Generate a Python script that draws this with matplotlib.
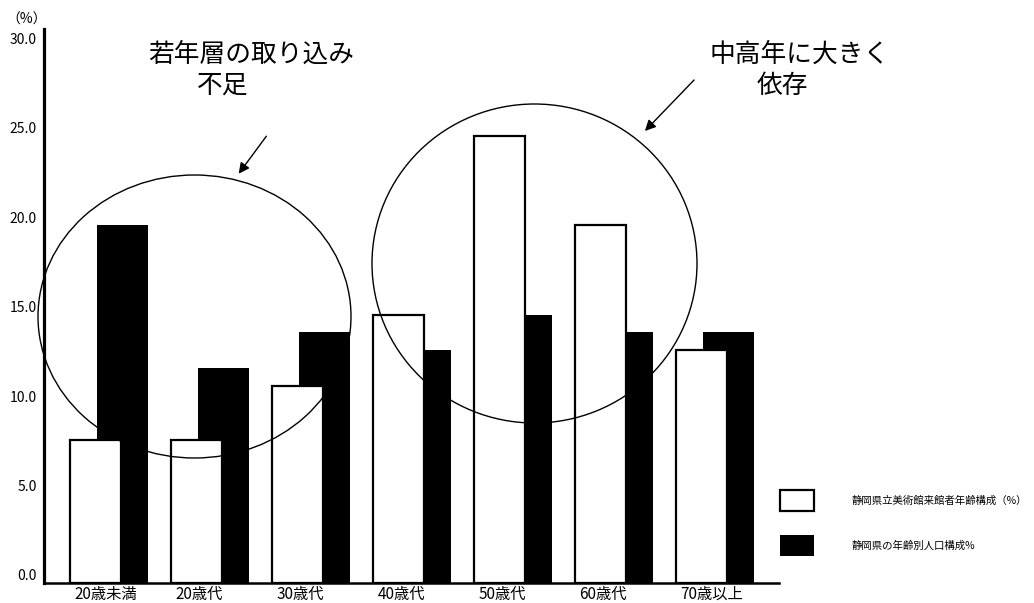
import matplotlib
matplotlib.use("Agg")
import matplotlib.pyplot as plt
import matplotlib.transforms as mtransforms
from matplotlib.patches import Ellipse, FancyArrowPatch
import numpy as np

plt.rcParams['font.family'] = ['Noto Sans CJK JP', 'DejaVu Sans']

categories = ['20歳未満', '20歳代', '30歳代', '40歳代', '50歳代', '60歳代', '70歳以上']
museum = [8, 8, 11, 15, 25, 20, 13]       # 静岡県立美術館来館者年齢構成（%）
population = [20, 12, 14, 13, 15, 14, 14]  # 静岡県の年齢別人口構成%
yticks = [0, 5, 10, 15, 20, 25, 30]
label_museum = '静岡県立美術館来館者年齢構成（%）'
label_pop = '静岡県の年齢別人口構成%'

W, H = 1034, 603
fig = plt.figure(figsize=(W / 100, H / 100), dpi=100)


def fx(px):
    return px / W


def fy(py):
    return 1 - py / H


ax = fig.add_axes([fx(44), fy(583), fx(779) - fx(44), fy(29) - fy(583)])

x = np.arange(len(categories))
bw = 0.505
b_pop = ax.bar(x + 0.267, population, bw, color='black', edgecolor='black',
               linewidth=0, label=label_pop, zorder=2)
b_mus = ax.bar(x, museum, bw, color='white', edgecolor='black',
               linewidth=1.6, label=label_museum, zorder=3)

ax.set_xlim(-0.51, 6.767)
ax.set_ylim(0, 30.95)

for s in ['top', 'right']:
    ax.spines[s].set_visible(False)
ax.spines['left'].set_linewidth(2.3)
ax.spines['bottom'].set_linewidth(1.8)

ax.set_yticks(yticks)
ax.set_yticklabels([f'{v:.1f}' for v in yticks], fontsize=10)
ax.tick_params(axis='y', length=0, pad=5)
up = mtransforms.ScaledTranslation(0, 8 / 100, fig.dpi_scale_trans)
for lab in ax.get_yticklabels():
    lab.set_transform(lab.get_transform() + up)

ax.set_xticks(x - 0.21)
ax.set_xticklabels(categories, fontsize=11, ha='left')
ax.tick_params(axis='x', length=0, pad=2)

fig.text(fx(6), fy(20), '（%）', fontsize=10, ha='left', va='center')

# circled groups
ftr = fig.transFigure
ax.add_patch(Ellipse((fx(194.5), fy(316.5)), fx(313), 283 / H,
                     transform=ftr, fill=False, edgecolor='black', lw=1.0,
                     zorder=5, clip_on=False))
ax.add_patch(Ellipse((fx(534.5), fy(263.5)), fx(325), 319 / H,
                     transform=ftr, fill=False, edgecolor='black', lw=1.0,
                     zorder=5, clip_on=False))

arrow = dict(arrowstyle='-|>', color='black', lw=1.0, mutation_scale=16)
fig.add_artist(FancyArrowPatch((fx(268), fy(134)), (fx(237), fy(176)),
                               transform=ftr, **arrow))
fig.add_artist(FancyArrowPatch((fx(696), fy(78)), (fx(643), fy(133)),
                               transform=ftr, **arrow))

fig.text(fx(251), fy(55), '若年層の取り込み', fontsize=18.5, ha='center', va='center')
fig.text(fx(223), fy(86), '不足', fontsize=18.5, ha='center', va='center')
fig.text(fx(800), fy(55), '中高年に大きく', fontsize=18.5, ha='center', va='center')
fig.text(fx(782), fy(86), '依存', fontsize=18.5, ha='center', va='center')

fig.legend(handles=[b_mus, b_pop], loc='upper left',
           bbox_to_anchor=(fx(780), fy(490)), frameon=False, fontsize=7.5,
           handlelength=3.27, handleheight=2.7, handletextpad=3.6,
           labelspacing=2.35, borderpad=0, borderaxespad=0)

fig.savefig('out.png', dpi=100)
